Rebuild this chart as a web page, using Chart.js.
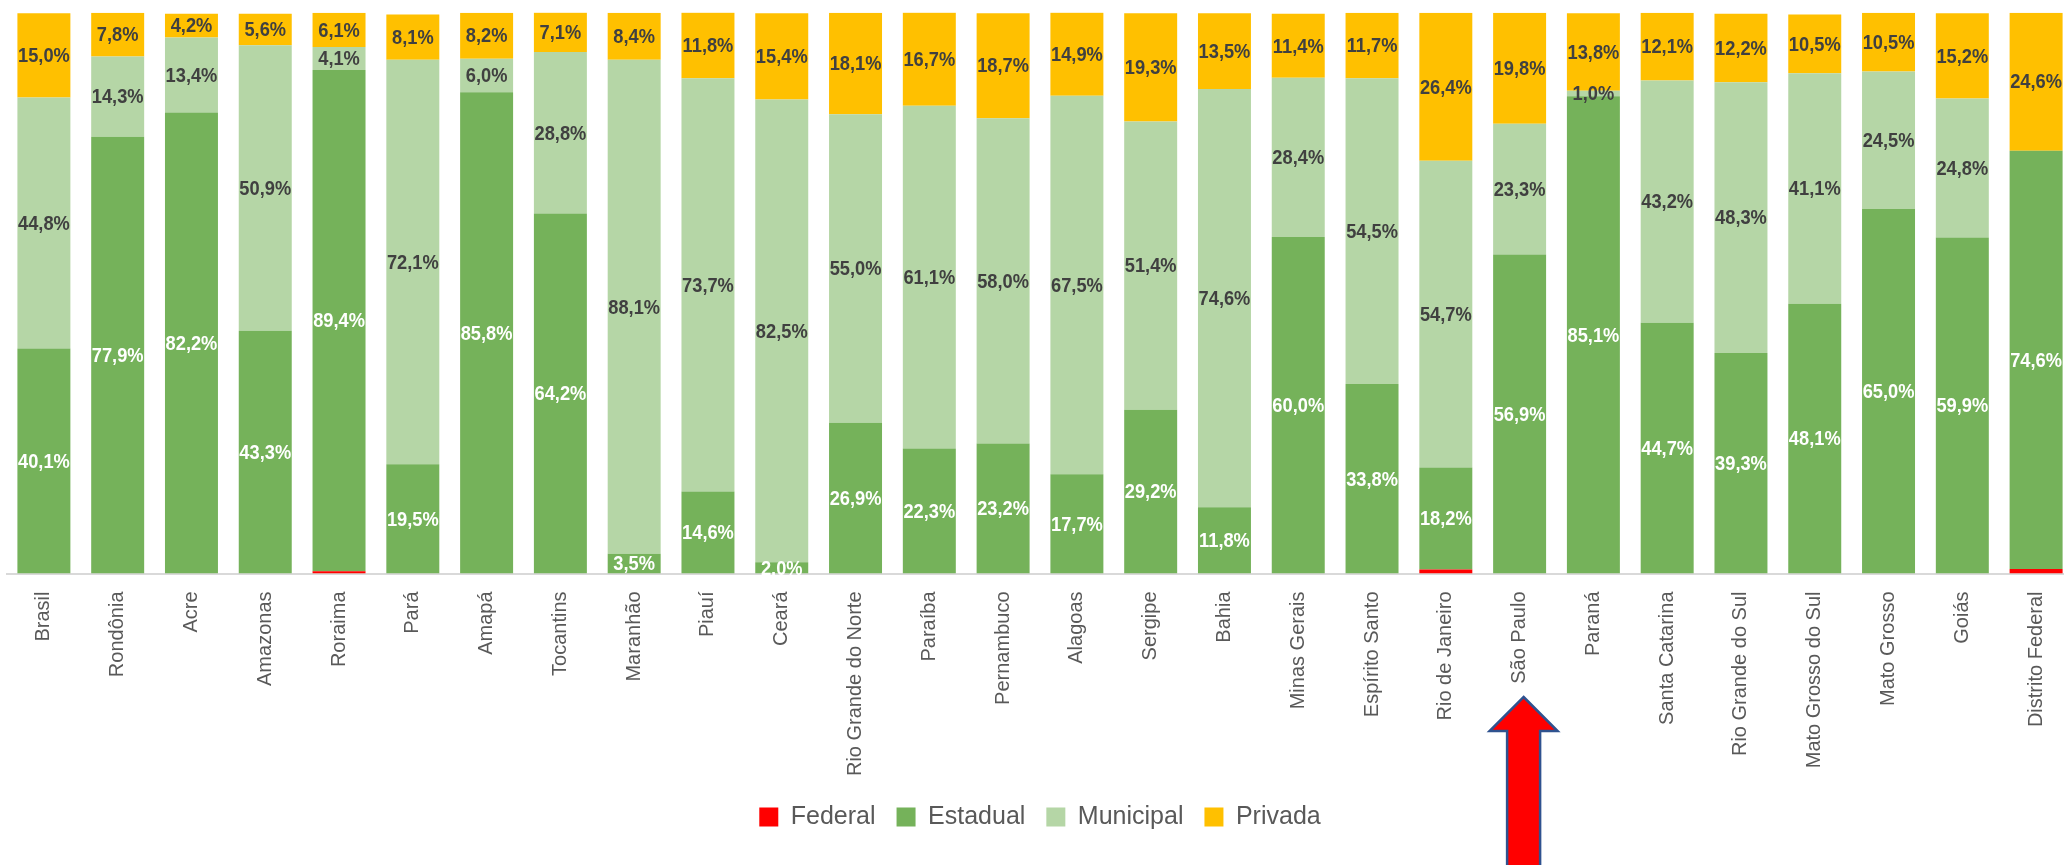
<!DOCTYPE html>
<html lang="pt-BR">
<head>
<meta charset="utf-8">
<title>Matrículas por dependência administrativa</title>
<script src="https://cdn.jsdelivr.net/npm/chart.js@4.4.1/dist/chart.umd.min.js"></script>
<style>
  html, body { margin: 0; padding: 0; background: #ffffff; overflow: hidden; }
  #wrap { width: 2080px; height: 865px; }
</style>
</head>
<body>
<div id="wrap"><canvas id="chart" width="2080" height="865"></canvas></div>
<script>
// Data (percent of enrolments per administrative level)
const categories = ['Brasil', 'Rondônia', 'Acre', 'Amazonas', 'Roraima', 'Pará', 'Amapá', 'Tocantins',
  'Maranhão', 'Piauí', 'Ceará', 'Rio Grande do Norte', 'Paraíba', 'Pernambuco', 'Alagoas', 'Sergipe',
  'Bahia', 'Minas Gerais', 'Espírito Santo', 'Rio de Janeiro', 'São Paulo', 'Paraná', 'Santa Catarina',
  'Rio Grande do Sul', 'Mato Grosso do Sul', 'Mato Grosso', 'Goiás', 'Distrito Federal'];

const federal = [0, 0, 0, 0, 0.4, 0, 0, 0, 0, 0, 0, 0, 0, 0, 0, 0, 0, 0, 0, 0.7, 0, 0, 0, 0, 0, 0, 0, 0.8];
const estadual = [40.1, 77.9, 82.2, 43.3, 89.4, 19.5, 85.8, 64.2, 3.5, 14.6, 2.0, 26.9, 22.3, 23.2, 17.7, 29.2,
  11.8, 60.0, 33.8, 18.2, 56.9, 85.1, 44.7, 39.3, 48.1, 65.0, 59.9, 74.6];
const municipal = [44.8, 14.3, 13.4, 50.9, 4.1, 72.1, 6.0, 28.8, 88.1, 73.7, 82.5, 55.0, 61.1, 58.0, 67.5, 51.4,
  74.6, 28.4, 54.5, 54.7, 23.3, 1.0, 43.2, 48.3, 41.1, 24.5, 24.8, 0];
const privada = [15.0, 7.8, 4.2, 5.6, 6.1, 8.1, 8.2, 7.1, 8.4, 11.8, 15.4, 18.1, 16.7, 18.7, 14.9, 19.3,
  13.5, 11.4, 11.7, 26.4, 19.8, 13.8, 12.1, 12.2, 10.5, 10.5, 15.2, 24.6];

const highlighted = 'São Paulo';

const sans = "'Liberation Sans', Arial, sans-serif";

// Percent labels centred in each segment (squeezed a bit, like the narrow original font)
const segmentLabels = {
  id: 'segmentLabels',
  afterDatasetsDraw(chart) {
    const ctx = chart.ctx;
    ctx.save();
    ctx.font = 'bold 21px ' + sans;
    ctx.textAlign = 'center';
    ctx.textBaseline = 'middle';
    chart.data.datasets.forEach((ds, di) => {
      if (!ds.labelColor) return;
      chart.getDatasetMeta(di).data.forEach((bar, i) => {
        const v = ds.data[i];
        if (!v) return;
        ctx.save();
        ctx.translate(bar.x, (bar.y + bar.base) / 2 + 1);
        ctx.scale(0.87, 1);
        ctx.fillStyle = ds.labelColor;
        ctx.fillText(v.toFixed(1).replace('.', ',') + '%', 0, 0);
        ctx.restore();
      });
    });
    ctx.restore();
  }
};

// Red arrow pointing at the highlighted state
const arrowMark = {
  id: 'arrowMark',
  afterDraw(chart) {
    const ctx = chart.ctx;
    const x = chart.scales.x.getPixelForValue(categories.indexOf(highlighted)) + 4;
    const tip = 697, neck = 731, bottom = chart.height + 4;
    ctx.save();
    ctx.beginPath();
    ctx.moveTo(x, tip);
    ctx.lineTo(x + 34, neck);
    ctx.lineTo(x + 16.5, neck);
    ctx.lineTo(x + 16.5, bottom);
    ctx.lineTo(x - 16.5, bottom);
    ctx.lineTo(x - 16.5, neck);
    ctx.lineTo(x - 34, neck);
    ctx.closePath();
    ctx.fillStyle = '#ff0000';
    ctx.fill();
    ctx.lineWidth = 2.5;
    ctx.strokeStyle = '#2f528f';
    ctx.stroke();
    ctx.restore();
  }
};

new Chart(document.getElementById('chart'), {
  type: 'bar',
  data: {
    labels: categories,
    datasets: [
      { label: 'Federal', data: federal, backgroundColor: '#ff0000' },
      { label: 'Estadual', data: estadual, backgroundColor: '#75b25a', labelColor: '#ffffff' },
      { label: 'Municipal', data: municipal, backgroundColor: '#b5d6a6', labelColor: '#404040' },
      { label: 'Privada', data: privada, backgroundColor: '#ffc000', labelColor: '#404040' }
    ]
  },
  options: {
    responsive: false,
    animation: false,
    layout: { padding: { left: 7, right: 7, top: 12.7, bottom: 25.5 } },
    datasets: { bar: { barPercentage: 0.718, categoryPercentage: 1, borderWidth: 0 } },
    plugins: {
      tooltip: { enabled: false },
      legend: {
        position: 'bottom',
        labels: {
          boxWidth: 19,
          boxHeight: 19,
          padding: 21,
          color: '#595959',
          font: { family: sans, size: 25 }
        }
      }
    },
    scales: {
      x: {
        stacked: true,
        grid: { display: false, drawTicks: false },
        border: { display: true, color: '#d9d9d9', width: 2 },
        ticks: {
          autoSkip: false,
          minRotation: 90,
          maxRotation: 90,
          padding: 18,
          color: '#595959',
          font: { family: sans, size: 20 }
        },
        afterFit(scale) { scale.height = 210; }
      },
      y: {
        stacked: true,
        display: false,
        min: 0,
        max: 100
      }
    }
  },
  plugins: [segmentLabels, arrowMark]
});
</script>
</body>
</html>
